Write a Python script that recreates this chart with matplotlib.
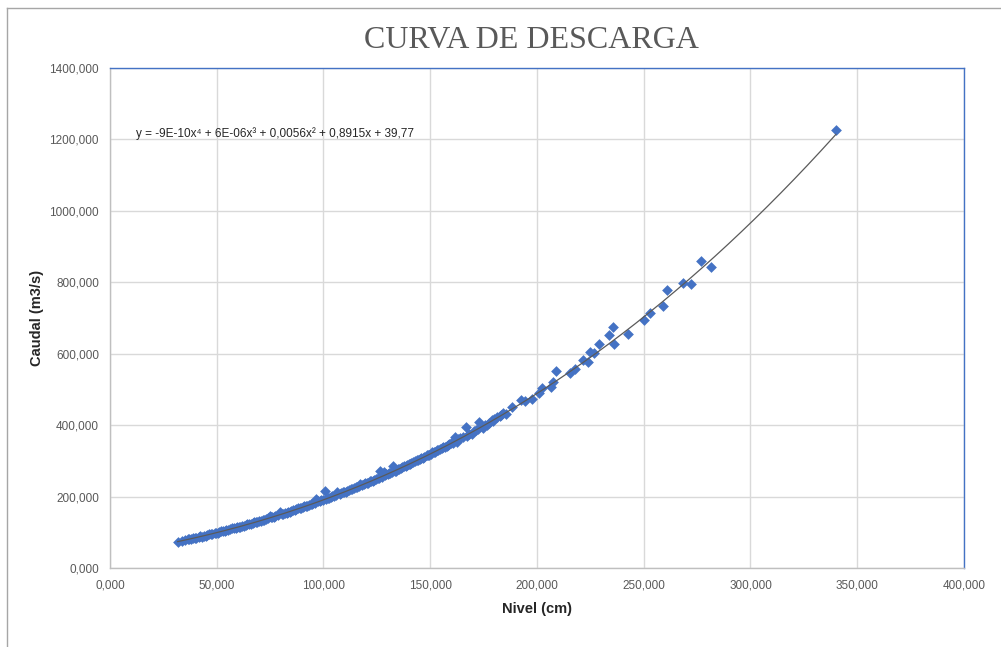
import numpy as np
import matplotlib
matplotlib.use("Agg")
import matplotlib.pyplot as plt
from matplotlib.lines import Line2D

# Nivel (cm) vs caudal (m3/s) aforos
nivel = [31.7, 35, 36.5, 38, 39, 40.5, 41.5, 43, 44, 45.5, 46.5, 48, 49, 50.5,
         52, 53, 54.5, 55.5, 57, 58, 59.5, 61, 62, 63.5, 65, 66, 67.5, 69, 70,
         71.5, 73, 74.9, 76, 77.5, 79.6, 80.5, 82, 83.5, 85, 86.5, 88, 89.5, 91,
         92.5, 94, 95, 96.5, 97.6, 99, 100.7, 102, 103.5, 105, 106.2, 107.5, 109,
         110.5, 112, 113.5, 115, 117.1, 118, 119.5, 121, 121.8, 123, 124.5, 126.5,
         127.2, 128.3, 130, 131.1, 132.7, 134, 135.5, 137, 138.5, 139, 140.5,
         141.9, 143.6, 145, 146.5, 148.3, 149.5, 151, 152, 153, 154.5, 156, 157.7,
         159, 160.5, 161.6, 162.4, 164, 166.7, 167, 169.4, 172.5, 172.8, 174.5,
         176.4, 178.8, 180, 181.1, 182.5, 184.2, 185.5, 188.1, 192.4, 194.2,
         197.5, 200.8, 202.4, 206.5, 207.6, 208.9, 215.5, 217.8, 221.4, 224,
         224.8, 226.7, 228.9, 233.9, 235.7, 235.9, 242.6, 250, 252.8, 258.8, 261,
         268.4, 272, 276.8, 281.5, 340,
         33.5, 37.2, 39.8, 42.2, 44.8, 47.2, 49.8, 51.2, 53.8, 56.2, 58.8, 60.2,
         62.8, 64.2, 66.8, 68.2, 70.8, 72.2, 74, 75.3, 76.8, 78.6, 81.2, 82.8,
         84.2, 85.8, 87.2, 88.8, 90.2, 91.8, 93.2, 94.6, 96, 98.2, 99.8, 101.3,
         102.8, 104.2, 105.8, 108.2, 109.8, 111.2, 112.8, 114.2, 115.8, 116.5,
         118.8, 120.2, 122.4, 123.8, 125.6, 126.2, 128.8, 129.4, 130.6, 132,
         133.3, 134.8, 136.2, 137.8, 140, 141.2, 142.7, 144.2, 145.7, 147.2,
         148.9, 150.2, 151.6, 153.8, 155.3, 156.8, 158.3, 159.6, 163.2, 165.2,
         168.2, 170.5, 171.5, 175.5, 177.5, 179.5, 183.3]
caudal = [73.6, 77.5, 80.5, 81, 84, 85, 87.5, 88, 91, 92, 95, 95.5, 98.5, 99,
          103, 103.5, 107, 107, 111, 111, 115, 116, 119, 120, 124, 124.5, 128.5,
          129.5, 133, 133.5, 138, 146, 142, 146, 158, 150, 155, 156, 161, 162,
          167, 168, 173, 174, 179, 183, 192, 188, 190, 217, 196, 198, 203, 213,
          206, 212, 214, 219, 221, 226, 236, 232, 237, 239, 244, 245, 250, 271,
          255, 269, 262, 265, 286, 273, 276, 283, 285, 289, 290, 298, 302, 306,
          308, 316, 316, 324, 326, 330, 332, 340, 343, 346, 350, 367, 354, 364,
          396, 370, 375, 388, 409, 393, 400, 414, 418, 424, 425, 433, 430, 451.6,
          470, 467, 474, 489, 505, 508, 520, 553, 545, 558, 582, 578, 606, 603,
          628, 652, 675, 626, 654, 695, 713, 734, 778, 799, 795, 860, 843, 1226,
          76, 81.5, 84, 88.5, 91, 95, 98.5, 101, 104.5, 109, 112.5, 115.5,
          119, 122, 126, 128.5, 133, 135.5, 139, 141.5, 144, 148, 152.5, 155,
          158, 161.5, 164, 167.5, 170.5, 173.5, 176.5, 179, 183, 187, 190.5, 194,
          197, 200.5, 204, 209.5, 213, 216.5, 220, 223.5, 228, 229.5,
          235, 238, 243.5, 247, 252, 253, 260.5, 262, 265, 268.5,
          272.5, 276, 280, 284.5, 291, 294.5, 298.5, 302.5, 307, 311,
          315.5, 319.5, 324, 330.5, 335.5, 340, 345, 349, 360, 366,
          376, 383, 386, 400, 407, 413, 428]

# polynomial trendline coefficients (highest degree first)
coef = [-9e-10, 6e-06, 0.0056, 0.8915, 39.77]
eq_label = "y = -9E-10x\u2074 + 6E-06x\u00b3 + 0,0056x\u00b2 + 0,8915x + 39,77"

xticks = np.arange(0, 401, 50)
yticks = np.arange(0, 1401, 200)

fig = plt.figure(figsize=(10.01, 6.47), dpi=100)
ax = fig.add_axes([0.1099, 0.1221, 0.8531, 0.7728])

xs = np.linspace(min(nivel), max(nivel), 300)
ax.plot(xs, np.polyval(coef, xs), color="#5a5a5a", lw=0.9, zorder=3)
ax.scatter(nivel, caudal, marker="D", s=30, color="#4472C4", linewidths=0, zorder=2)

ax.set_xlim(0, 400)
ax.set_ylim(0, 1400)
ax.set_xticks(xticks)
ax.set_yticks(yticks)
ax.set_xticklabels([f"{v},000" for v in xticks])
ax.set_yticklabels([f"{v},000" for v in yticks])
ax.tick_params(length=0, labelsize=8.5, labelcolor="#595959", pad=8)
for lab in ax.get_xticklabels() + ax.get_yticklabels():
    lab.set_family("Liberation Sans")
ax.grid(True, color="#d9d9d9", lw=1)
ax.set_axisbelow(True)

for side in ("left", "bottom"):
    ax.spines[side].set_color("#bfbfbf")
for side in ("top", "right"):
    ax.spines[side].set_color("#4472C4")
for sp in ax.spines.values():
    sp.set_linewidth(1)

ax.set_xlabel("Nivel (cm)", fontsize=10.5, fontweight="bold", family="Liberation Sans",
              color="#262626", labelpad=8)
ax.set_ylabel("Caudal (m3/s)", fontsize=10.5, fontweight="bold", family="Liberation Sans",
              color="#262626", labelpad=4)

ax.text(12.2, 1215, eq_label, fontsize=8.5, family=["Liberation Sans", "DejaVu Sans"],
        color="#262626", va="center", ha="left")

fig.text(0.531, 0.938, "CURVA DE DESCARGA", fontsize=23, family="Liberation Serif",
         color="#595959", ha="center", va="center")

# chart area border
fig.add_artist(Line2D([0.007, 0.007], [0.0, 0.9876], color="#a6a6a6", lw=1))
fig.add_artist(Line2D([0.007, 1.0], [0.9876, 0.9876], color="#a6a6a6", lw=1))

fig.savefig("out.png", dpi=100)
